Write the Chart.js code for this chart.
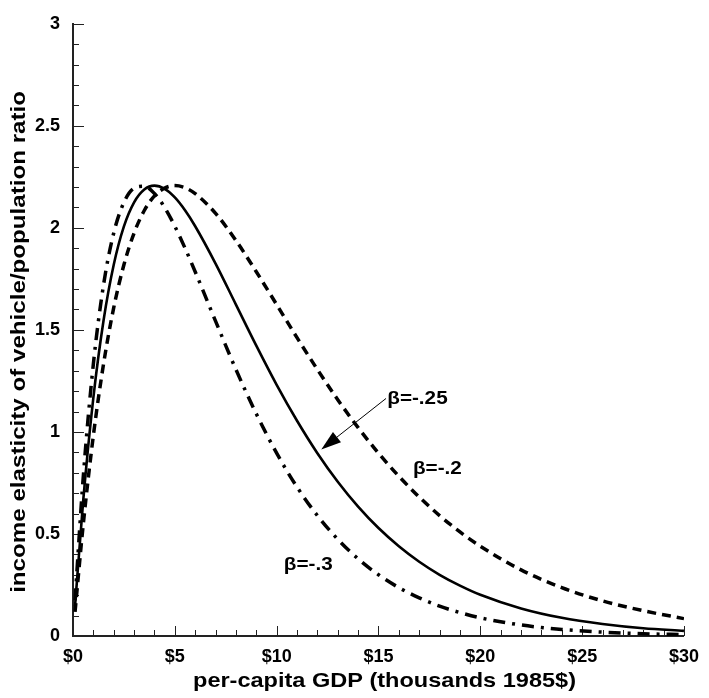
<!DOCTYPE html>
<html>
<head>
<meta charset="utf-8">
<script src="https://cdn.jsdelivr.net/npm/chart.js@4.4.0/dist/chart.umd.min.js"></script>
<style>
  html, body { margin: 0; padding: 0; background: #fff; }
  #wrap { width: 709px; height: 698px; position: relative; }
</style>
</head>
<body>
<div id="wrap"><canvas id="chart"></canvas></div>
<script>
  // per-capita GDP, thousands of 1985 dollars
  const gdp = [0.1, 0.5, 1, 1.5, 2, 2.5, 3, 3.5, 4, 4.5, 5, 5.5, 6, 7, 8, 9, 10,
    11, 12, 13, 14, 15, 16, 17, 18, 19, 20, 22, 24, 26, 28, 30];

  // income elasticity
  const beta025 = [0.146, 0.662, 1.168, 1.546, 1.819, 2.007, 2.125, 2.188, 2.207,
    2.191, 2.149, 2.086, 2.008, 1.825, 1.624, 1.423, 1.231, 1.055, 0.896, 0.756,
    0.634, 0.529, 0.440, 0.364, 0.300, 0.247, 0.202, 0.135, 0.089, 0.059, 0.038, 0.025];
  const beta02 = [0.118, 0.543, 0.982, 1.333, 1.609, 1.819, 1.975, 2.085, 2.157,
    2.195, 2.207, 2.197, 2.168, 2.071, 1.938, 1.785, 1.624, 1.462, 1.306, 1.158,
    1.021, 0.896, 0.783, 0.681, 0.590, 0.510, 0.440, 0.324, 0.237, 0.172, 0.124, 0.085];
  const beta03 = [0.175, 0.775, 1.333, 1.721, 1.975, 2.125, 2.195, 2.204, 2.168,
    2.100, 2.008, 1.901, 1.785, 1.543, 1.306, 1.089, 0.896, 0.730, 0.590, 0.474,
    0.378, 0.300, 0.237, 0.187, 0.146, 0.115, 0.089, 0.054, 0.032, 0.019, 0.011, 0.007];

  const xTitle = "per-capita GDP (thousands 1985$)";
  const yTitle = "income elasticity of vehicle/population ratio";

  // curve labels, placed in data units
  const notes = [
    { text: "β=-.25", x: 15.43, y: 1.16 },
    { text: "β=-.2", x: 16.69, y: 0.82 },
    { text: "β=-.3", x: 10.35, y: 0.35 },
  ];
  const arrowFrom = { x: 15.37, y: 1.164 };
  const arrowTo = { x: 12.19, y: 0.914 };

  const FONT = "'Liberation Sans', Arial, Helvetica, sans-serif";

  function toPoints(values) {
    return gdp.map((x, i) => ({ x, y: values[i] }));
  }

  function drawText(ctx, text, x, y, opts) {
    ctx.save();
    ctx.translate(x, y);
    if (opts.rotate) ctx.rotate(opts.rotate);
    ctx.scale(opts.stretch || 1, 1);
    ctx.font = opts.font;
    ctx.textAlign = opts.align || "left";
    ctx.textBaseline = opts.baseline || "middle";
    ctx.fillStyle = "#000";
    ctx.fillText(text, 0, 0);
    ctx.restore();
  }

  // tick marks point into the plot, minor every 1 / 0.1
  const innerTicks = {
    id: "innerTicks",
    beforeDatasetsDraw(chart) {
      const { ctx, scales: { x, y } } = chart;
      ctx.save();
      ctx.strokeStyle = "#222";
      ctx.lineWidth = 1;
      ctx.beginPath();
      for (let v = 0; v <= 30; v += 1) {
        const px = Math.round(x.getPixelForValue(v)) + 0.5;
        const len = v % 5 === 0 ? 10 : 6;
        ctx.moveTo(px, y.bottom);
        ctx.lineTo(px, y.bottom - len);
      }
      for (let i = 0; i <= 30; i++) {
        const py = Math.round(y.getPixelForValue(i / 10)) + 0.5;
        const len = i % 5 === 0 ? 11 : 6;
        ctx.moveTo(x.left, py);
        ctx.lineTo(x.left + len, py);
      }
      ctx.stroke();
      ctx.restore();
    },
  };

  const titlesAndNotes = {
    id: "titlesAndNotes",
    afterDraw(chart) {
      const { ctx, chartArea, scales: { x, y } } = chart;

      drawText(ctx, xTitle, (chartArea.left + chartArea.right) / 2 + 6, chart.height - 11, {
        font: `bold 21px ${FONT}`, align: "center", baseline: "alphabetic", stretch: 1.12,
      });
      drawText(ctx, yTitle, 25, (chartArea.top + chartArea.bottom) / 2 + 12, {
        font: `bold 21px ${FONT}`, align: "center", baseline: "alphabetic",
        rotate: -Math.PI / 2, stretch: 1.15,
      });

      notes.forEach((note) => {
        drawText(ctx, note.text, x.getPixelForValue(note.x), y.getPixelForValue(note.y), {
          font: `bold 18px ${FONT}`, stretch: 1.15,
        });
      });

      const x1 = x.getPixelForValue(arrowFrom.x);
      const y1 = y.getPixelForValue(arrowFrom.y);
      const x2 = x.getPixelForValue(arrowTo.x);
      const y2 = y.getPixelForValue(arrowTo.y);
      const angle = Math.atan2(y2 - y1, x2 - x1);
      const head = 20;
      const half = 6.5;

      ctx.save();
      ctx.strokeStyle = "#000";
      ctx.lineWidth = 1;
      ctx.beginPath();
      ctx.moveTo(x1, y1);
      ctx.lineTo(x2 - Math.cos(angle) * head, y2 - Math.sin(angle) * head);
      ctx.stroke();

      ctx.translate(x2, y2);
      ctx.rotate(angle);
      ctx.fillStyle = "#000";
      ctx.beginPath();
      ctx.moveTo(0, 0);
      ctx.lineTo(-head, -half);
      ctx.lineTo(-head, half);
      ctx.closePath();
      ctx.fill();
      ctx.restore();
    },
  };

  const lineBase = {
    borderColor: "#000",
    pointRadius: 0,
    pointHoverRadius: 0,
    cubicInterpolationMode: "monotone",
    borderCapStyle: "butt",
    fill: false,
  };

  new Chart(document.getElementById("chart"), {
    type: "line",
    data: {
      datasets: [
        { ...lineBase, label: "β=-.2", data: toPoints(beta02), borderWidth: 3.5, borderDash: [9, 6] },
        { ...lineBase, label: "β=-.3", data: toPoints(beta03), borderWidth: 3.5, borderDash: [12, 7, 3, 7] },
        { ...lineBase, label: "β=-.25", data: toPoints(beta025), borderWidth: 2.6 },
      ],
    },
    options: {
      responsive: true,
      maintainAspectRatio: false,
      animation: false,
      events: [],
      layout: { padding: { top: 16, right: 16, left: 0, bottom: 0 } },
      plugins: {
        legend: { display: false },
        tooltip: { enabled: false },
      },
      scales: {
        x: {
          type: "linear",
          min: 0,
          max: 30,
          grid: { display: false, drawTicks: false },
          border: { display: true, color: "#222", width: 2 },
          ticks: {
            stepSize: 5,
            maxRotation: 0,
            padding: 10,
            color: "#000",
            font: { family: FONT, weight: "bold", size: 18 },
            callback: (v) => "$" + v,
          },
          afterFit(scale) {
            scale.height = 62;
          },
        },
        y: {
          type: "linear",
          min: 0,
          max: 3,
          grid: { display: false, drawTicks: false },
          border: { display: true, color: "#222", width: 2 },
          ticks: {
            stepSize: 0.5,
            padding: 13,
            color: "#000",
            font: { family: FONT, weight: "bold", size: 18 },
            callback: (v) => String(v),
          },
          afterFit(scale) {
            scale.width = 73;
          },
        },
      },
    },
    plugins: [innerTicks, titlesAndNotes],
  });
</script>
</body>
</html>
